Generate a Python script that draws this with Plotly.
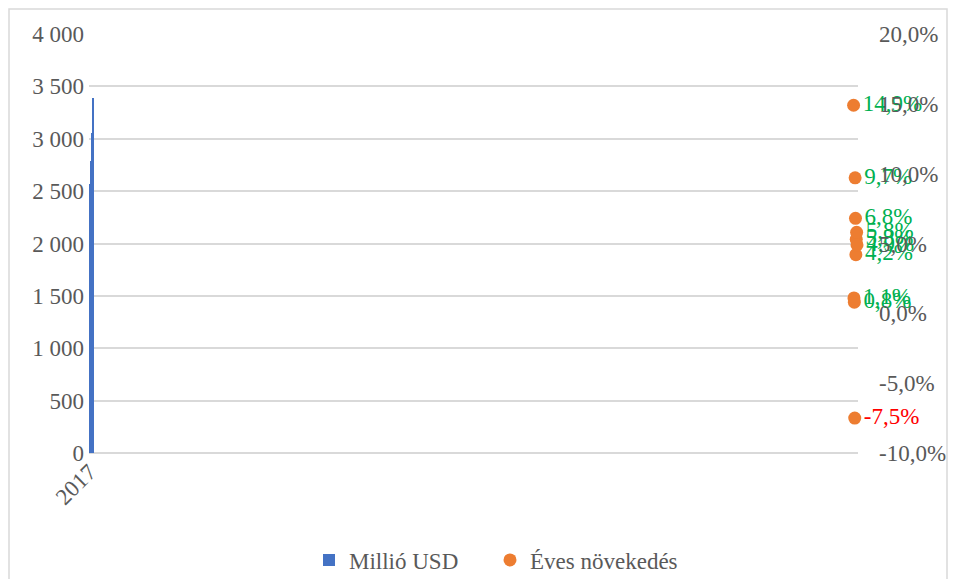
import plotly.graph_objects as go

# Annual values (million USD) and year-on-year growth (%)
years = [2007, 2008, 2009, 2010, 2011, 2012, 2013, 2014, 2015, 2016, 2017]
millio_usd = [2195, 2522, 2550, 2570, 2377, 2608, 2785, 2902, 3056, 3233, 3391]
growth_years = [2008, 2009, 2010, 2011, 2012, 2013, 2014, 2015, 2016, 2017]
growth_pct = [14.9, 1.1, 0.8, -7.5, 9.7, 6.8, 4.2, 5.3, 5.8, 4.9]

category_label = ["2017"]
usd_ticks = [0, 500, 1000, 1500, 2000, 2500, 3000, 3500, 4000]
pct_ticks = [-10, -5, 0, 5, 10, 15, 20]

FONT = "Times New Roman, Liberation Serif, Tinos, DejaVu Serif, serif"
GREY = "#595959"
GRID = "#D9D9D9"

def hu_pct(v):
    return f"{v:.1f}%".replace(".", ",")

def hu_int(v):
    return f"{v:,}".replace(",", " ")

# columns sit on their category index, the growth points on their year value
bar_pos = list(range(1, len(years) + 1))

fig = go.Figure()
fig.add_trace(go.Bar(
    x=bar_pos, y=millio_usd, name="Millió USD",
    marker=dict(color="#4472C4", line=dict(width=0)),
    width=4, yaxis="y", legend="legend",
))
fig.add_trace(go.Scatter(
    x=growth_years, y=growth_pct, name="Éves növekedés",
    mode="markers+text", yaxis="y2", legend="legend2",
    marker=dict(color="#ED7D31", size=13),
    text=[hu_pct(v) for v in growth_pct],
    textposition="middle right",
    textfont=dict(family=FONT, size=23,
                  color=["#00B050" if v >= 0 else "#FF0000" for v in growth_pct]),
    cliponaxis=False,
))

W, H = 956, 579
L, R, T, B = 89, 98, 34, 126
pw, ph = W - L - R, H - T - B

def px_x(p):
    return (p - L) / pw

def px_y(p):
    return (H - B - p) / ph

legend_style = dict(orientation="h", xanchor="left", y=px_y(560), yanchor="middle",
                    font=dict(family=FONT, size=23, color=GREY), itemwidth=30)

fig.update_layout(
    width=W, height=H, autosize=False,
    margin=dict(l=L, r=R, t=T, b=B, pad=0, autoexpand=False),
    paper_bgcolor="white", plot_bgcolor="white",
    font=dict(family=FONT, size=23, color=GREY),
    showlegend=True,
    legend=dict(x=px_x(309), **legend_style),
    legend2=dict(x=px_x(490), **legend_style),
    bargap=0,
    xaxis=dict(range=[0, 2019.6], showgrid=False, zeroline=False, showline=False,
               tickvals=[bar_pos[0]], ticktext=category_label, tickangle=-45,
               ticks="", automargin=False,
               tickfont=dict(family=FONT, size=23, color=GREY)),
    yaxis=dict(range=[0, 4000], tickvals=usd_ticks,
               ticktext=[hu_int(v) for v in usd_ticks],
               showgrid=True, gridcolor=GRID, gridwidth=2,
               zeroline=True, zerolinecolor=GRID, zerolinewidth=2,
               showline=False, ticks="", ticklabelstandoff=4, automargin=False,
               tickfont=dict(family=FONT, size=23, color=GREY)),
    yaxis2=dict(range=[-10, 20], overlaying="y", side="right",
                tickvals=pct_ticks, ticktext=[hu_pct(v) for v in pct_ticks],
                showgrid=False, zeroline=False, showline=False, ticks="",
                ticklabelstandoff=20, automargin=False,
                tickfont=dict(family=FONT, size=23, color=GREY)),
    shapes=[dict(type="rect", xref="paper", yref="paper",
                 x0=px_x(9), x1=px_x(947), y0=px_y(600), y1=px_y(9),
                 line=dict(color=GRID, width=1.5), layer="below")],
)

fig.write_html("out.html")
